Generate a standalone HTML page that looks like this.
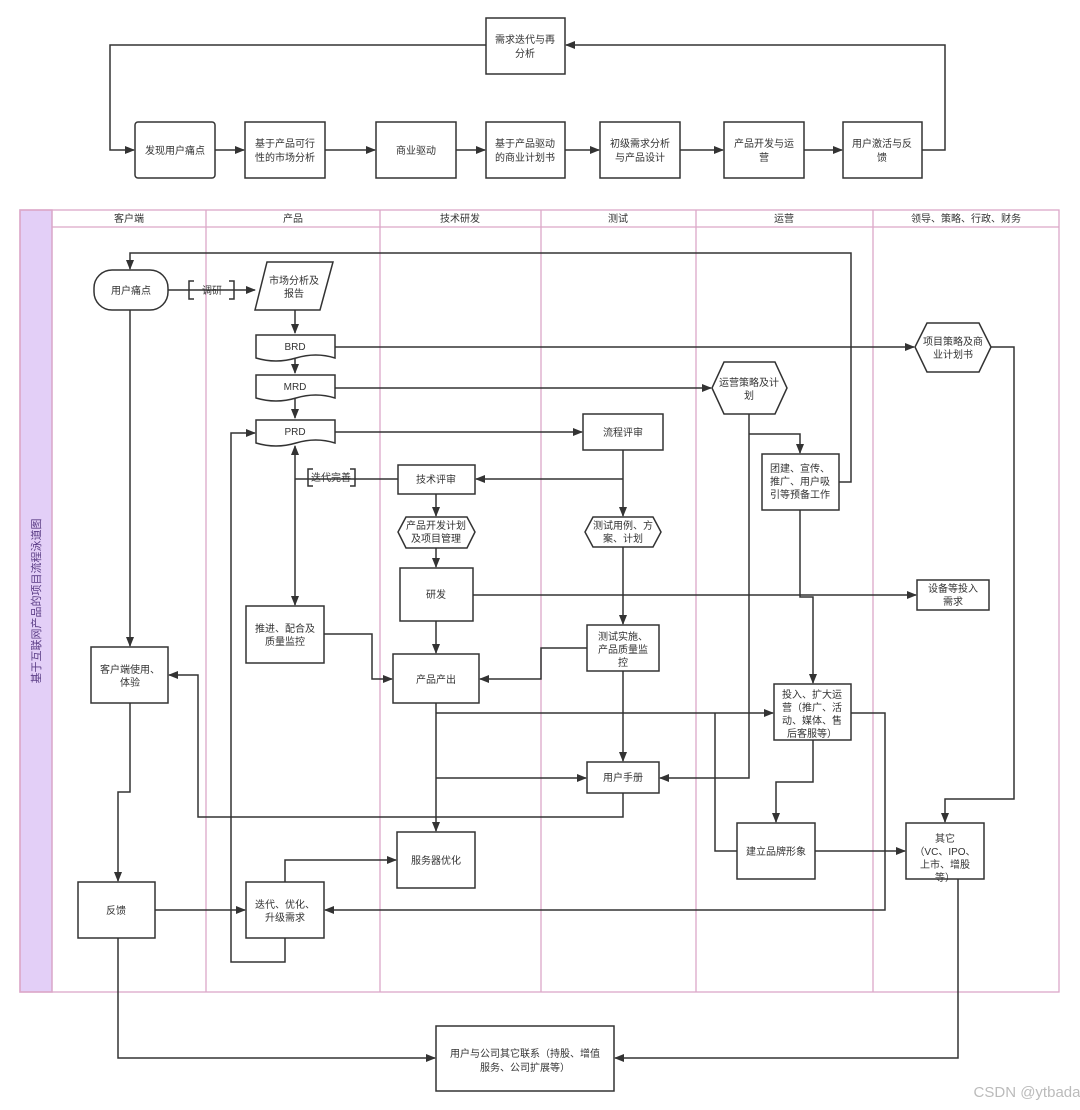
<!DOCTYPE html>
<html><head><meta charset="utf-8"><style>
html,body{margin:0;padding:0;background:#fff;}
svg{display:block;}
text{font-family:"Liberation Sans","Noto Sans CJK SC",sans-serif;font-size:10px;fill:#333;text-anchor:middle;}
</style></head><body>
<svg width="1080" height="1110" viewBox="0 0 1080 1110" xmlns="http://www.w3.org/2000/svg">
<defs>
<marker id="a" markerWidth="10" markerHeight="8" refX="9" refY="4" orient="auto" markerUnits="userSpaceOnUse">
<path d="M0,0 L10,4 L0,8 z" fill="#333"/></marker>
</defs>
<rect width="1080" height="1110" fill="#fff"/>
<g fill="none" stroke="#333" stroke-width="1.5">
<!-- top flow -->
<rect x="486" y="18" width="79" height="56" fill="#fff"/>
<rect x="135" y="122" width="80" height="56" rx="3"/>
<rect x="245" y="122" width="80" height="56"/>
<rect x="376" y="122" width="80" height="56"/>
<rect x="486" y="122" width="79" height="56"/>
<rect x="600" y="122" width="80" height="56"/>
<rect x="724" y="122" width="80" height="56"/>
<rect x="843" y="122" width="79" height="56"/>
<path d="M486,45 H110 V150 H134" marker-end="url(#a)"/>
<path d="M922,150 H945 V45 H566" marker-end="url(#a)"/>
<path d="M215,150 H244" marker-end="url(#a)"/>
<path d="M325,150 H375" marker-end="url(#a)"/>
<path d="M456,150 H485" marker-end="url(#a)"/>
<path d="M565,150 H599" marker-end="url(#a)"/>
<path d="M680,150 H723" marker-end="url(#a)"/>
<path d="M804,150 H842" marker-end="url(#a)"/>
</g>
<!-- swimlane -->
<rect x="20" y="210" width="32" height="782" fill="#e3cff7" stroke="#d9a5c9" stroke-width="1.5"/>
<g fill="none" stroke="#dca8c8" stroke-width="1.3">
<rect x="20" y="210" width="1039" height="782"/>
<line x1="52" y1="227" x2="1059" y2="227"/>
<line x1="206" y1="210" x2="206" y2="992"/>
<line x1="380" y1="210" x2="380" y2="992"/>
<line x1="541" y1="210" x2="541" y2="992"/>
<line x1="696" y1="210" x2="696" y2="992"/>
<line x1="873" y1="210" x2="873" y2="992"/>
</g>
<text x="129" y="222">客户端</text>
<text x="293" y="222">产品</text>
<text x="460" y="222">技术研发</text>
<text x="618" y="222">测试</text>
<text x="784" y="222">运营</text>
<text x="966" y="222">领导、策略、行政、财务</text>
<text transform="translate(40,601) rotate(-90)" style="font-size:11px;fill:#5b3d86">基于互联网产品的项目流程泳道图</text>

<g fill="none" stroke="#333" stroke-width="1.5">
<!-- connectors -->
<path d="M839,482 H851 V253 H130 V269" marker-end="url(#a)"/>
<path d="M168,290 H255" marker-end="url(#a)"/>
<path d="M130,310 V646" marker-end="url(#a)"/>
<path d="M295,310 V333" marker-end="url(#a)"/>
<path d="M295,358 V373" marker-end="url(#a)"/>
<path d="M295,398 V418" marker-end="url(#a)"/>
<path d="M335,347 H914" marker-end="url(#a)"/>
<path d="M335,388 H711" marker-end="url(#a)"/>
<path d="M335,432 H582" marker-end="url(#a)"/>
<path d="M623,450 V516" marker-end="url(#a)"/>
<path d="M623,479 H476" marker-end="url(#a)"/>
<path d="M398,479 H295"/>
<path d="M295,479 V446" marker-end="url(#a)"/>
<path d="M295,479 V605" marker-end="url(#a)"/>
<path d="M436,494 V516" marker-end="url(#a)"/>
<path d="M436,548 V567" marker-end="url(#a)"/>
<path d="M436,621 V653" marker-end="url(#a)"/>
<path d="M473,595 H916" marker-end="url(#a)"/>
<path d="M324,634 H372 V679 H392" marker-end="url(#a)"/>
<path d="M623,547 V624" marker-end="url(#a)"/>
<path d="M587,648 H541 V679 H480" marker-end="url(#a)"/>
<path d="M623,671 V761" marker-end="url(#a)"/>
<path d="M436,703 V831" marker-end="url(#a)"/>
<path d="M436,713 H773" marker-end="url(#a)"/>
<path d="M436,778 H586" marker-end="url(#a)"/>
<path d="M623,793 V817 H198 V675 H169" marker-end="url(#a)"/>
<path d="M749,414 V778 H660" marker-end="url(#a)"/>
<path d="M749,434 H800 V453" marker-end="url(#a)"/>
<path d="M800,510 V597 H813 V683" marker-end="url(#a)"/>
<path d="M813,740 V782 H776 V822" marker-end="url(#a)"/>
<path d="M715,713 V851 H737"/>
<path d="M851,713 H885 V910 H325" marker-end="url(#a)"/>
<path d="M815,851 H905" marker-end="url(#a)"/>
<path d="M991,347 H1014 V799 H945 V822" marker-end="url(#a)"/>
<path d="M958,879 V1058 H615" marker-end="url(#a)"/>
<path d="M118,938 V1058 H435" marker-end="url(#a)"/>
<path d="M155,910 H245" marker-end="url(#a)"/>
<path d="M285,882 V860 H396" marker-end="url(#a)"/>
<path d="M285,938 V962 H231 V433 H255" marker-end="url(#a)"/>
<path d="M130,703 V792 H118 V881" marker-end="url(#a)"/>
<!-- bracket labels -->
<path d="M194,281 h-5 v18 h5 M229,281 h5 v18 h-5"/>
<path d="M313,469 h-5 v17 h5 M350,469 h5 v17 h-5"/>
</g>
<g fill="#fff" stroke="#333" stroke-width="1.5">
<rect x="94" y="270" width="74" height="40" rx="18"/>
<polygon points="267,262 333,262 320,310 255,310"/>
<path d="M256,335 H335 V358 Q316,352 296,358 T256,358 Z"/>
<path d="M256,375 H335 V398 Q316,392 296,398 T256,398 Z"/>
<path d="M256,420 H335 V443 Q316,437 296,443 T256,443 Z"/>
<rect x="398" y="465" width="77" height="29"/>
<polygon points="406,517 467,517 475,532 467,548 406,548 398,532"/>
<rect x="400" y="568" width="73" height="53"/>
<rect x="246" y="606" width="78" height="57"/>
<rect x="393" y="654" width="86" height="49"/>
<rect x="91" y="647" width="77" height="56"/>
<rect x="78" y="882" width="77" height="56"/>
<rect x="246" y="882" width="78" height="56"/>
<rect x="397" y="832" width="78" height="56"/>
<rect x="583" y="414" width="80" height="36"/>
<polygon points="593,517 653,517 661,532 653,547 593,547 585,532"/>
<rect x="587" y="625" width="72" height="46"/>
<rect x="587" y="762" width="72" height="31"/>
<polygon points="724,362 775,362 787,388 775,414 724,414 712,388"/>
<rect x="762" y="454" width="77" height="56"/>
<rect x="917" y="580" width="72" height="30"/>
<polygon points="927,323 979,323 991,347 979,372 927,372 915,347"/>
<rect x="774" y="684" width="77" height="56"/>
<rect x="737" y="823" width="78" height="56"/>
<rect x="906" y="823" width="78" height="56"/>
<rect x="436" y="1026" width="178" height="65"/>
</g>
<!-- labels -->
<text x="525" y="43">需求迭代与再</text><text x="525" y="57">分析</text>
<text x="175" y="154">发现用户痛点</text>
<text x="285" y="147">基于产品可行</text><text x="285" y="161">性的市场分析</text>
<text x="416" y="154">商业驱动</text>
<text x="525" y="147">基于产品驱动</text><text x="525" y="161">的商业计划书</text>
<text x="640" y="147">初级需求分析</text><text x="640" y="161">与产品设计</text>
<text x="764" y="147">产品开发与运</text><text x="764" y="161">营</text>
<text x="882" y="147">用户激活与反</text><text x="882" y="161">馈</text>

<text x="131" y="294">用户痛点</text>
<text x="212" y="294">调研</text>
<text x="294" y="284">市场分析及</text><text x="294" y="297">报告</text>
<text x="295" y="350">BRD</text>
<text x="295" y="390">MRD</text>
<text x="295" y="435">PRD</text>
<text x="331" y="481">迭代完善</text>
<text x="436" y="483">技术评审</text>
<text x="436" y="529">产品开发计划</text><text x="436" y="542">及项目管理</text>
<text x="436" y="598">研发</text>
<text x="285" y="632">推进、配合及</text><text x="285" y="645">质量监控</text>
<text x="436" y="683">产品产出</text>
<text x="130" y="673">客户端使用、</text><text x="130" y="686">体验</text>
<text x="116" y="914">反馈</text>
<text x="285" y="908">迭代、优化、</text><text x="285" y="921">升级需求</text>
<text x="436" y="864">服务器优化</text>
<text x="623" y="436">流程评审</text>
<text x="623" y="529">测试用例、方</text><text x="623" y="542">案、计划</text>
<text x="623" y="640">测试实施、</text><text x="623" y="653">产品质量监</text><text x="623" y="666">控</text>
<text x="623" y="781">用户手册</text>
<text x="749" y="386">运营策略及计</text><text x="749" y="399">划</text>
<text x="800" y="472">团建、宣传、</text><text x="800" y="485">推广、用户吸</text><text x="800" y="498">引等预备工作</text>
<text x="953" y="592">设备等投入</text><text x="953" y="605">需求</text>
<text x="953" y="345">项目策略及商</text><text x="953" y="358">业计划书</text>
<text x="812" y="698">投入、扩大运</text><text x="812" y="711">营（推广、活</text><text x="812" y="724">动、媒体、售</text><text x="812" y="737">后客服等）</text>
<text x="776" y="855">建立品牌形象</text>
<text x="945" y="842">其它</text><text x="945" y="855">（VC、IPO、</text><text x="945" y="868">上市、增股</text><text x="945" y="881">等）</text>
<text x="525" y="1057">用户与公司其它联系（持股、增值</text><text x="525" y="1071">服务、公司扩展等）</text>
<text x="1027" y="1097" style="font-size:15px;fill:#bbb">CSDN @ytbada</text>
</svg>
</body></html>
